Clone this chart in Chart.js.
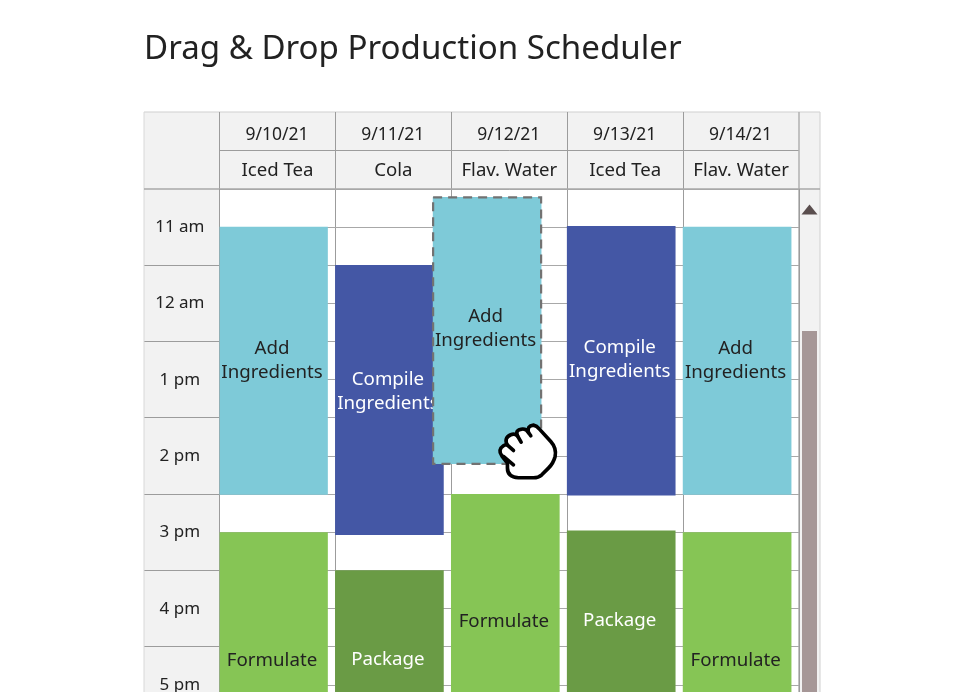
<!DOCTYPE html>
<html>
<head>
<meta charset="utf-8">
<title>Drag &amp; Drop Production Scheduler</title>
<script src="https://cdn.jsdelivr.net/npm/chart.js@4"></script>
<style>
    html, body { margin: 0; padding: 0; background: #fff; overflow: hidden; }
    canvas { display: block; }
</style>
</head>
<body>
<canvas id="schedulerChart" width="958" height="692"></canvas>
<script>
// Schedule data: hours on a 24h clock, one entry per day column
const dates = ['9/10/21', '9/11/21', '9/12/21', '9/13/21', '9/14/21'];
const products = ['Iced Tea', 'Cola', 'Flav. Water', 'Iced Tea', 'Flav. Water'];
const hourLabels = ['11 am', '12 am', '1 pm', '2 pm', '3 pm', '4 pm', '5 pm'];
const addSlots = [[11.5, 15], null, null, null, [11.5, 15]];
const compileSlots = [null, [12, 15.53], null, [11.49, 15.01], null];
const formulateSlots = [[15.5, 18.82], null, [15, 18.32], null, [15.5, 18.82]];
const packageSlots = [null, [16, 18.3], null, [15.48, 17.78], null];
const draggedSlot = [11.11, 14.6];
const draggedColumn = 2;

const FONT = '"Noto Sans", sans-serif';
const LINE = '#9c9c9c';
const PANEL = '#f2f2f2';
const DARK_TEXT = '#222222';
const FIRST_HOUR = 11;
const LAST_HOUR = 17.59; // page cuts the grid off here

// bars sit on the left side of their column
const BAR_WIDTH = 108;
const BAR_INSET = 0.466;
const DRAG_SHIFT = -0.157;

function slotPoints(slots) {
    const points = [];
    slots.forEach((slot, i) => {
        if (slot) points.push({ x: i + BAR_INSET, y: slot });
    });
    return points;
}

function taskDataset(label, slots, color, textColor, order) {
    return {
        label: label,
        data: slotPoints(slots),
        backgroundColor: color,
        textColor: textColor,
        order: order
    };
}

const datasets = [
    taskDataset('Add\nIngredients', addSlots, '#7ecad8', DARK_TEXT, 5),
    taskDataset('Compile\nIngredients', compileSlots, '#4457a5', '#ffffff', 4),
    taskDataset('Formulate', formulateSlots, '#86c555', DARK_TEXT, 3),
    taskDataset('Package', packageSlots, '#6a9b45', '#ffffff', 2),
    {
        label: 'Add\nIngredients',
        data: [{ x: draggedColumn + BAR_INSET + DRAG_SHIFT, y: draggedSlot }],
        backgroundColor: '#7ecad8',
        textColor: DARK_TEXT,
        dragged: true,
        order: 1
    }
];

function hline(ctx, x1, x2, y, color, width) {
    ctx.strokeStyle = color;
    ctx.lineWidth = width || 1;
    ctx.beginPath();
    ctx.moveTo(x1, y);
    ctx.lineTo(x2, y);
    ctx.stroke();
}

function vline(ctx, x, y1, y2, color, width) {
    ctx.strokeStyle = color;
    ctx.lineWidth = width || 1;
    ctx.beginPath();
    ctx.moveTo(x, y1);
    ctx.lineTo(x, y2);
    ctx.stroke();
}

// Header rows, time column panel and scrollbar
const schedulerFrame = {
    id: 'schedulerFrame',
    beforeDraw(chart) {
        const { ctx, chartArea, scales } = chart;
        const top = 112, midRow = 150.5, left = 144, right = 820;
        ctx.save();
        ctx.fillStyle = PANEL;
        ctx.fillRect(left, top, right - left, chartArea.top - top);
        ctx.fillRect(left, chartArea.top, chartArea.left - left, chartArea.height);
        ctx.fillRect(chartArea.right, chartArea.top, right - chartArea.right, chartArea.height);

        // hour rows in the time column
        hourLabels.forEach((label, i) => {
            if (i > 0) hline(ctx, left, chartArea.left, Math.floor(scales.y.getPixelForValue(FIRST_HOUR + i)) + 0.5, LINE);
        });

        hline(ctx, left, right, top, '#cfcfcf');
        vline(ctx, left, top, chartArea.bottom, '#d8d8d8');
        vline(ctx, right, top, chartArea.bottom, '#d0d0d0');
        hline(ctx, chartArea.left, chartArea.right, midRow, LINE);

        ctx.fillStyle = DARK_TEXT;
        ctx.textAlign = 'center';
        ctx.textBaseline = 'middle';
        dates.forEach((date, i) => {
            const center = scales.x.getPixelForValue(i + 0.5);
            vline(ctx, Math.floor(scales.x.getPixelForValue(i)) + 0.5, top, chartArea.top, LINE);
            ctx.fillStyle = DARK_TEXT;
            ctx.font = '17.5px ' + FONT;
            ctx.fillText(date, center - 0.5, 135);
            ctx.font = '18.6px ' + FONT;
            ctx.fillText(products[i], center, 170.5);
        });
        vline(ctx, chartArea.right, top, chartArea.bottom, '#b0b0b0', 1.5);
        hline(ctx, left, right, chartArea.top, '#a8a8a8', 1.5);

        // scrollbar
        ctx.fillStyle = '#5a4e4e';
        ctx.beginPath();
        ctx.moveTo(809.5, 204.5);
        ctx.lineTo(817.5, 214.5);
        ctx.lineTo(801.5, 214.5);
        ctx.closePath();
        ctx.fill();
        ctx.fillStyle = '#a69797';
        ctx.fillRect(802, 331, 15, chartArea.bottom - 331);
        ctx.restore();
    },
    // task names are drawn per dataset so the dragged bar covers its neighbour's text
    afterDatasetDraw(chart, args) {
        const { ctx } = chart;
        const dataset = chart.data.datasets[args.index];
        const bars = args.meta.data;
        const lines = dataset.label.split('\n');
        ctx.save();
        ctx.font = '18.7px ' + FONT;
        ctx.textAlign = 'center';
        ctx.textBaseline = 'middle';
        ctx.fillStyle = dataset.textColor;
        bars.forEach((bar, i) => {
            const mid = (bar.y + bar.base) / 2 + labelNudge(dataset, i);
            lines.forEach((text, n) => {
                const y = mid + (n - (lines.length - 1) / 2) * 24;
                ctx.fillText(text, bar.x - 1.5, y);
            });
        });
        if (dataset.dragged) {
            const bar = bars[0];
            ctx.strokeStyle = '#727272';
            ctx.lineWidth = 2.2;
            ctx.setLineDash([9, 6]);
            ctx.strokeRect(bar.x - bar.width / 2, bar.base, bar.width, bar.y - bar.base);
        }
        ctx.restore();
    },
    afterDraw(chart) {
        const { ctx } = chart;
        const bar = chart.getDatasetMeta(4).data[0];
        drawHand(ctx, bar.x + bar.width / 2 - 121, bar.y - 64);
    }
};

function labelNudge(dataset, i) {
    if (dataset.dragged) return -2;
    if (dataset.label.startsWith('Compile')) return i === 0 ? -8.5 : -1.5;
    if (dataset.label.startsWith('Add')) return 0;
    return dataset.label === 'Package' && i === 1 ? 2 : 1;
}

// Grabbing cursor, outline traced at 3x
function drawHand(ctx, x, y) {
    ctx.save();
    ctx.translate(x, y);
    ctx.scale(1 / 3, 1 / 3);
    ctx.lineWidth = 11;
    ctx.lineJoin = 'round';
    ctx.lineCap = 'round';
    ctx.strokeStyle = '#000';
    ctx.fillStyle = '#fff';
    ctx.beginPath();
    ctx.moveTo(262, 190);
    ctx.lineTo(245, 168);
    ctx.quadraticCurveTo(232, 150, 250, 138);
    ctx.quadraticCurveTo(258, 133, 262, 136);
    ctx.quadraticCurveTo(250, 115, 272, 105);
    ctx.quadraticCurveTo(283, 100, 292, 108);
    ctx.quadraticCurveTo(285, 90, 305, 88);
    ctx.quadraticCurveTo(318, 86, 325, 98);
    ctx.quadraticCurveTo(320, 78, 340, 76);
    ctx.quadraticCurveTo(350, 78, 358, 88);
    ctx.lineTo(392, 125);
    ctx.quadraticCurveTo(410, 145, 405, 170);
    ctx.quadraticCurveTo(400, 190, 385, 205);
    ctx.lineTo(365, 225);
    ctx.quadraticCurveTo(355, 234, 340, 234);
    ctx.lineTo(295, 234);
    ctx.quadraticCurveTo(262, 232, 262, 205);
    ctx.closePath();
    ctx.fill();
    ctx.stroke();
    ctx.beginPath();
    ctx.moveTo(250, 170);
    ctx.lineTo(280, 195);
    ctx.moveTo(262, 136);
    ctx.lineTo(280, 152);
    ctx.moveTo(292, 108);
    ctx.lineTo(303, 127);
    ctx.moveTo(325, 98);
    ctx.lineTo(332, 108);
    ctx.stroke();
    ctx.restore();
}

Chart.defaults.font.family = FONT;

const schedulerChart = new Chart(document.getElementById('schedulerChart'), {
    type: 'bar',
    data: { datasets: datasets },
    plugins: [schedulerFrame],
    options: {
        responsive: false,
        animation: false,
        events: [],
        grouped: false,
        barThickness: BAR_WIDTH,
        layout: {
            padding: { left: 144, right: 159, top: 0, bottom: 0 }
        },
        plugins: {
            legend: { display: false },
            tooltip: { enabled: false },
            title: {
                display: true,
                text: 'Drag & Drop Production Scheduler',
                align: 'start',
                color: DARK_TEXT,
                font: { size: 33.1, weight: 'normal', lineHeight: 1.2 },
                padding: { top: 30, bottom: 119.3 }
            }
        },
        scales: {
            x: {
                type: 'linear',
                position: 'top',
                offset: false,
                min: 0,
                max: dates.length,
                ticks: { display: false, stepSize: 1 },
                grid: { color: LINE, drawTicks: false, offset: false },
                border: { display: false },
                afterFit(scale) { scale.height = 0; }
            },
            y: {
                type: 'linear',
                reverse: true,
                min: FIRST_HOUR,
                max: LAST_HOUR,
                afterFit(scale) {
                    scale.width = 75.5;
                    scale.paddingTop = 0;
                    scale.paddingBottom = 0;
                },
                ticks: {
                    stepSize: 0.5,
                    autoSkip: false,
                    includeBounds: false,
                    crossAlign: 'center',
                    padding: 15,
                    color: DARK_TEXT,
                    font: { size: 17 },
                    callback(value) {
                        // hour name sits in the middle of its row
                        return Number.isInteger(value) ? '' : hourLabels[Math.floor(value) - FIRST_HOUR];
                    }
                },
                grid: { color: '#a8a8a8', drawTicks: false },
                border: { display: false }
            }
        }
    }
});
</script>
</body>
</html>
